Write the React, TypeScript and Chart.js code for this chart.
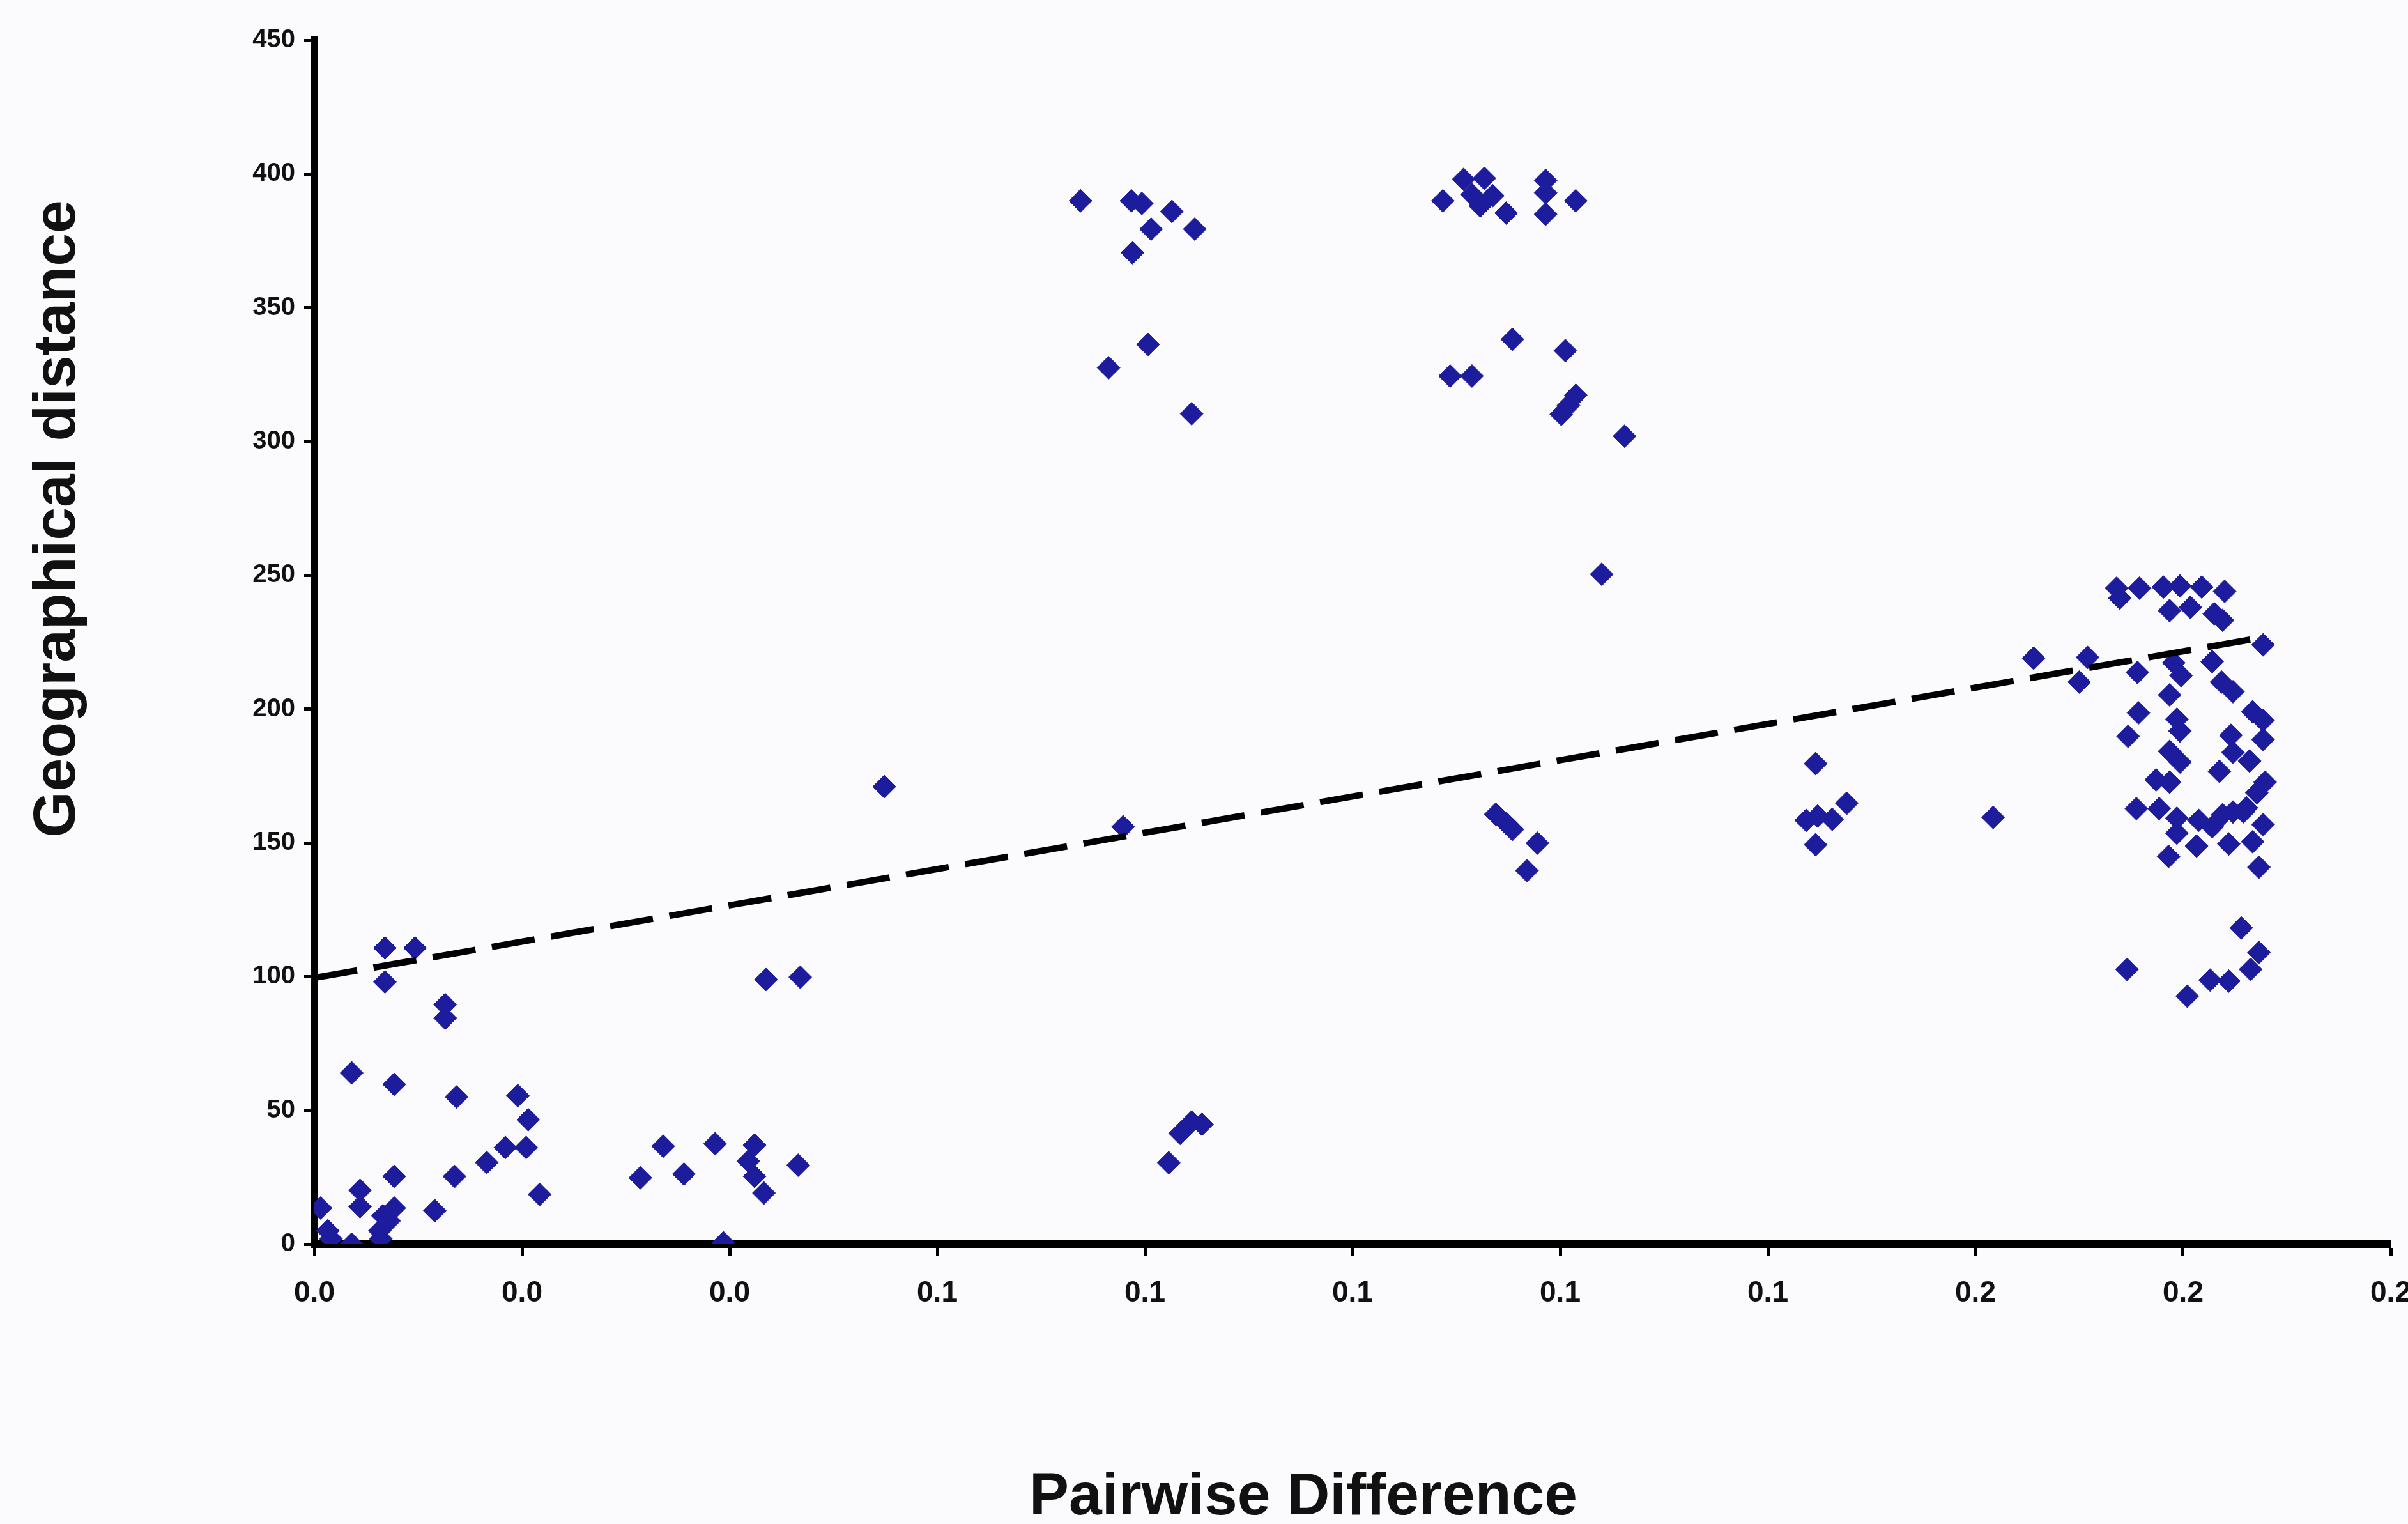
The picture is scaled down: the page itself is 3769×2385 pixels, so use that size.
import React, { useEffect, useRef } from "react";
import { Chart, registerables } from "chart.js";

Chart.register(...registerables);

// ---- data ----
const pairwiseDifference: number[] = [
  0.0068, 0.0097, 0.0068, 0.0126, 0.0126, 0.0036, 0.0077, 0.0137, 0.0196, 0.0206,
  0.0184, 0.0204, 0.0166, 0.0135, 0.0077, 0.0044, 0.0044, 0.0006, 0.0077, 0.0066,
  0.0072, 0.0063, 0.0064, 0.0116, 0.0217, 0.0013, 0.0016, 0.0036, 0.0336, 0.0386,
  0.0314, 0.0356, 0.0424, 0.0418, 0.0424, 0.0433, 0.0466, 0.0435, 0.0468, 0.0394,
  0.0549, 0.0779, 0.0823, 0.0834, 0.0845, 0.0855,
  0.0738, 0.0787, 0.0797, 0.0826, 0.0806, 0.0848, 0.0788, 0.0803, 0.0765, 0.0845,
  0.1087, 0.1107, 0.1127, 0.1115, 0.1135, 0.1123, 0.1148, 0.1186, 0.1186, 0.1186,
  0.1215, 0.1154, 0.1205, 0.1094, 0.1115, 0.1215, 0.1208, 0.1201, 0.1262, 0.1240,
  0.1138, 0.1148, 0.1154, 0.1178, 0.1168,
  0.1446, 0.1476, 0.1437, 0.1448, 0.1462, 0.1446,
  0.1617,
  0.1656, 0.1708, 0.1700, 0.1736, 0.1739, 0.1758, 0.1781, 0.1797, 0.1818, 0.1840,
  0.1787, 0.1807, 0.1830, 0.1838, 0.1877, 0.1756, 0.1791, 0.1798, 0.1828, 0.1837,
  0.1848, 0.1787, 0.1757, 0.1794, 0.1797, 0.1747, 0.1787, 0.1797, 0.1774, 0.1787,
  0.1835, 0.1867, 0.1877, 0.1846, 0.1877, 0.1848, 0.1864, 0.1879, 0.1871, 0.1861,
  0.1848, 0.1755, 0.1777, 0.1794, 0.1794, 0.1786, 0.1815, 0.1828, 0.1838, 0.1813,
  0.1844, 0.1867, 0.1877, 0.1858, 0.1873, 0.1856, 0.1873, 0.1865, 0.1844, 0.1826,
  0.1804, 0.1746,
];

const geographicalDistance: number[] = [
  110.7, 110.7, 98, 89.5, 84.5, 64, 59.7, 55, 55.5, 46.5,
  36.1, 36.1, 30.5, 25.3, 25.3, 20.1, 14, 13.5, 13.5, 10.6,
  8.7, 5, 2, 12.5, 18.6, 5, 2, 0, 36.6, 37.5,
  24.8, 26.2, 37, 31, 25.3, 19.1, 29.5, 98.9, 99.8, 0.5,
  171, 156, 30.4, 41.4, 45.6, 44.8,
  390, 390, 389, 386, 379.4, 379.4, 370.6, 336.3, 327.6, 310.4,
  390, 398, 398.4, 392.3, 391.9, 388.1, 385.4, 397.6, 393, 385,
  390, 338.2, 334, 324.5, 324.5, 317.3, 313.5, 310.2, 302, 250.4,
  160.7, 157.3, 155, 149.9, 139.6,
  179.6, 164.8, 158.4, 160, 158.8, 149.3,
  159.5,
  219, 219.3, 210.1, 245.2, 241.5, 245.2, 245.6, 246, 245.6, 244,
  236.8, 238, 235.6, 233.2, 224, 213.7, 217.3, 212.5, 217.7, 210.1,
  206.5, 205.3, 198.6, 196.2, 191.8, 189.8, 184.2, 180.2, 173.5, 172.7,
  176.7, 199, 195.8, 190.2, 188.6, 183.8, 180.6, 172.7, 168.7, 163.1,
  161.5, 162.8, 162.8, 159.2, 153.6, 144.9, 158.4, 156, 160.5, 148.8,
  149.6, 150.4, 156.8, 161.6, 140.9, 118.2, 109, 102.7, 98.3, 98.7,
  92.7, 102.7,
];

// linear trend line (end points)
const trendX: number[] = [0, 0.188];
const trendY: number[] = [99.5, 227];

// axes
const xMin = 0;
const xMax = 0.2;
const xStep = 0.02;
const yMin = 0;
const yMax = 450;
const yStep = 50;

const xTitle = "Pairwise Difference";
const yTitle = "Geographical distance";

const FONT = '"Liberation Sans", Arial, sans-serif';

export default function App() {
  const ref = useRef<HTMLCanvasElement | null>(null);

  useEffect(() => {
    const canvas = ref.current;
    if (!canvas) return;

    const titlesPlugin = {
      id: "bgAndTitles",
      beforeDraw(chart: any) {
        const ctx = chart.ctx;
        ctx.save();
        ctx.fillStyle = "#fbfbfe";
        ctx.fillRect(0, 0, chart.width, chart.height);
        ctx.restore();
      },
      afterDraw(chart: any) {
        const ctx = chart.ctx;
        ctx.save();
        ctx.fillStyle = "#111111";
        ctx.font = `bold 93px ${FONT}`;
        ctx.textAlign = "center";
        ctx.textBaseline = "alphabetic";
        ctx.fillText(xTitle, 2040, 2370);
        ctx.translate(117, 812);
        ctx.rotate(-Math.PI / 2);
        ctx.fillText(yTitle, 0, 0);
        ctx.restore();
      },
    };

    const points = pairwiseDifference.map((x, i) => ({ x, y: geographicalDistance[i] }));
    const trend = trendX.map((x, i) => ({ x, y: trendY[i] }));

    const chart = new Chart(canvas, {
      type: "scatter",
      data: {
        datasets: [
          {
            type: "line",
            label: "Trend",
            data: trend,
            borderColor: "#000000",
            borderWidth: 10,
            borderDash: [68, 26],
            pointRadius: 0,
            fill: false,
            tension: 0,
          } as any,
          {
            label: "Pairs",
            data: points,
            pointStyle: "rectRot",
            pointRadius: 18,
            pointHoverRadius: 18,
            backgroundColor: "#1c1c9c",
            borderColor: "#1c1c9c",
            borderWidth: 1,
            showLine: false,
          },
        ],
      },
      options: {
        responsive: false,
        animation: false,
        devicePixelRatio: 1,
        layout: { padding: { left: 0, top: 63, right: 27, bottom: 0 } },
        plugins: {
          legend: { display: false },
          tooltip: { enabled: false },
          title: { display: false },
        },
        scales: {
          x: {
            type: "linear",
            min: xMin,
            max: xMax,
            ticks: {
              stepSize: xStep,
              autoSkip: false,
              maxRotation: 0,
              minRotation: 0,
              padding: 32,
              color: "#111111",
              font: { family: FONT, size: 46, weight: "bold" },
              callback: (v: any) => Number(v).toFixed(1),
            },
            grid: {
              display: true,
              drawOnChartArea: false,
              drawTicks: true,
              tickLength: 18,
              tickWidth: 5,
              tickColor: "#000000",
            },
            border: { display: true, color: "#000000", width: 12 },
            afterFit: (s: any) => {
              s.height = 438;
              s.paddingLeft = 0;
              s.paddingRight = 0;
            },
          },
          y: {
            type: "linear",
            min: yMin,
            max: yMax,
            ticks: {
              stepSize: yStep,
              padding: 14,
              color: "#111111",
              font: { family: FONT, size: 40, weight: "bold" },
            },
            grid: {
              display: true,
              drawOnChartArea: false,
              drawTicks: true,
              tickLength: 16,
              tickWidth: 5,
              tickColor: "#000000",
            },
            border: { display: true, color: "#000000", width: 12 },
            afterFit: (s: any) => {
              s.width = 492;
              s.paddingTop = 0;
              s.paddingBottom = 0;
            },
          },
        },
      },
      plugins: [titlesPlugin],
    });

    return () => {
      chart.destroy();
    };
  }, []);

  return (
    <div style={{ position: "fixed", left: 0, top: 0, width: 3769, height: 2385, background: "#fbfbfe" }}>
      <canvas
        ref={ref}
        width={3769}
        height={2385}
        style={{ width: 3769, height: 2385, display: "block" }}
      />
    </div>
  );
}
